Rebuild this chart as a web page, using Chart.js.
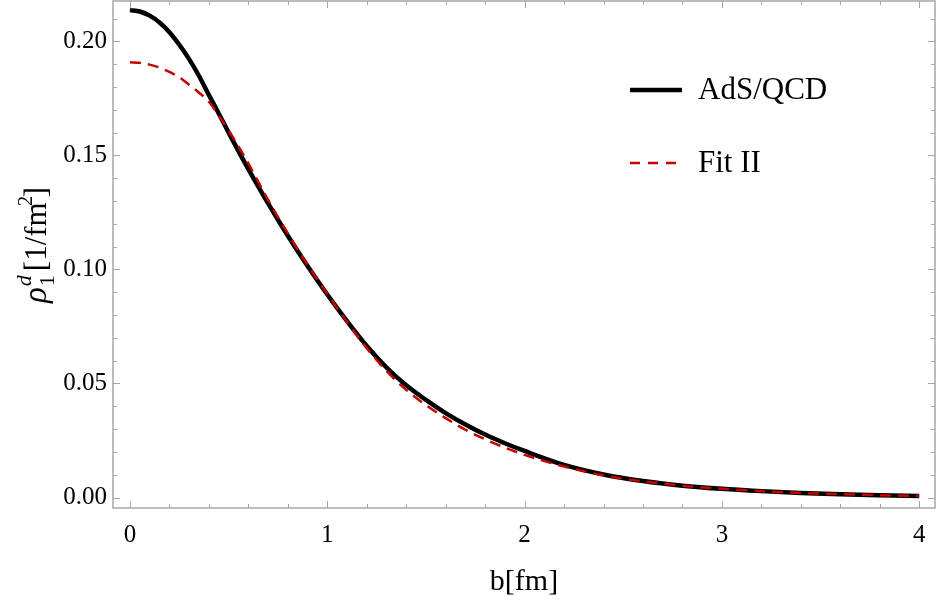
<!DOCTYPE html>
<html>
<head>
<meta charset="utf-8">
<script src="https://cdn.jsdelivr.net/npm/chart.js@4.4.0/dist/chart.umd.min.js"></script>
<style>
  html, body { margin: 0; padding: 0; background: #fff; }
  #wrap { width: 938px; height: 605px; }
</style>
</head>
<body>
<div id="wrap"><canvas id="rhoChart" width="938" height="605"></canvas></div>
<script>
// b [fm] sample points
const bValues = [0, 0.05, 0.1, 0.15, 0.2, 0.25, 0.3, 0.35, 0.4, 0.45, 0.5, 0.6, 0.7, 0.8, 0.9,
                 1.0, 1.1, 1.2, 1.3, 1.4, 1.5, 1.6, 1.7, 1.8, 1.9, 2.0, 2.2, 2.4, 2.6, 2.8,
                 3.0, 3.2, 3.4, 3.6, 3.8, 4.0];

// AdS/QCD (solid black)
const adsQcd = [0.2137, 0.2131, 0.2113, 0.2083, 0.2040, 0.1985, 0.1922, 0.1848, 0.1765, 0.1684,
                0.1600, 0.1440, 0.1290, 0.1148, 0.1015, 0.0890, 0.0773, 0.0664, 0.0570, 0.0492,
                0.0428, 0.0370, 0.0320, 0.0276, 0.0238, 0.0204, 0.0143, 0.0101, 0.0072, 0.0052,
                0.0038, 0.0028, 0.0020, 0.0014, 0.0010, 0.0007];

// Fit II (dashed red)
const fitII = [0.1908, 0.1906, 0.1898, 0.1885, 0.1866, 0.1842, 0.1810, 0.1775, 0.1735, 0.1675,
               0.1610, 0.1465, 0.1305, 0.1158, 0.1020, 0.0893, 0.0770, 0.0655, 0.0555, 0.0472,
               0.0405, 0.0348, 0.0297, 0.0255, 0.0219, 0.0187, 0.0136, 0.0097, 0.0071, 0.0052,
               0.0038, 0.0028, 0.0020, 0.0015, 0.0010, 0.0007];

// tick values
const xMajorTicks = [0, 1, 2, 3, 4];
const xMinorTicks = [0.2, 0.4, 0.6, 0.8, 1.2, 1.4, 1.6, 1.8, 2.2, 2.4, 2.6, 2.8, 3.2, 3.4, 3.6, 3.8];
const yMajorTicks = [0, 0.05, 0.10, 0.15, 0.20];
const yMinorTicks = [0.01, 0.02, 0.03, 0.04, 0.06, 0.07, 0.08, 0.09, 0.11, 0.12, 0.13, 0.14,
                     0.16, 0.17, 0.18, 0.19, 0.21];

const serif = '"Liberation Serif", "DejaVu Serif", serif';
const frameColor = '#a6a6a6';

function toPoints(xs, ys) {
    return xs.map((x, i) => ({ x: x, y: ys[i] }));
}

// frame and inward tick marks on all four sides (Mathematica style)
const frameTicks = {
    id: 'frameTicks',
    afterDatasetsDraw(chart) {
        const { ctx, chartArea: a, scales: { x, y } } = chart;
        ctx.save();
        ctx.strokeStyle = frameColor;
        ctx.lineWidth = 1.5;
        ctx.strokeRect(a.left, a.top, a.right - a.left, a.bottom - a.top);
        ctx.lineWidth = 1;
        const major = 7, minor = 4;
        const xt = (v, len) => {
            const px = Math.round(x.getPixelForValue(v)) + 0.5;
            ctx.beginPath();
            ctx.moveTo(px, a.bottom); ctx.lineTo(px, a.bottom - len);
            ctx.moveTo(px, a.top); ctx.lineTo(px, a.top + len);
            ctx.stroke();
        };
        const yt = (v, len) => {
            const py = Math.round(y.getPixelForValue(v)) + 0.5;
            ctx.beginPath();
            ctx.moveTo(a.left, py); ctx.lineTo(a.left + len, py);
            ctx.moveTo(a.right, py); ctx.lineTo(a.right - len, py);
            ctx.stroke();
        };
        xMajorTicks.forEach(v => xt(v, major));
        xMinorTicks.forEach(v => xt(v, minor));
        yMajorTicks.forEach(v => yt(v, major));
        yMinorTicks.forEach(v => yt(v, minor));
        ctx.restore();
    }
};

// rotated y-axis label with sub/superscripts
const yAxisLabel = {
    id: 'yAxisLabel',
    afterDraw(chart) {
        const { ctx } = chart;
        ctx.save();
        ctx.translate(46, 303);
        ctx.rotate(-Math.PI / 2);
        ctx.fillStyle = '#000';
        ctx.textBaseline = 'alphabetic';
        ctx.textAlign = 'left';
        let cx = 0;
        ctx.font = 'italic 33px ' + serif;
        ctx.fillText('\u03C1', 0, 0);
        cx += ctx.measureText('\u03C1').width + 1;
        ctx.font = '22px ' + serif;
        ctx.fillText('1', cx, 8);
        ctx.font = 'italic 22px ' + serif;
        ctx.fillText('d', cx, -15);
        cx += 15;
        ctx.font = '31px ' + serif;
        ctx.fillText('[1/fm', cx, 0);
        cx += ctx.measureText('[1/fm').width;
        ctx.font = '21px ' + serif;
        ctx.fillText('2', cx - 4, -14);
        ctx.font = '31px ' + serif;
        ctx.fillText(']', cx + 5, 0);
        ctx.restore();
    }
};

// legend placed inside the plot, top right
const insideLegend = {
    id: 'insideLegend',
    afterDraw(chart) {
        const { ctx } = chart;
        const rows = [90, 163];
        ctx.save();
        chart.data.datasets.forEach((ds, i) => {
            const yy = rows[i];
            ctx.strokeStyle = ds.borderColor;
            ctx.lineWidth = ds.borderWidth;
            ctx.setLineDash(ds.borderDash ? [10, 8] : []);
            ctx.beginPath();
            ctx.moveTo(630, yy);
            ctx.lineTo(682, yy);
            ctx.stroke();
            ctx.setLineDash([]);
            ctx.fillStyle = '#000';
            ctx.font = '31px ' + serif;
            ctx.textBaseline = 'middle';
            ctx.fillText(ds.label, 698, yy + 1);
        });
        ctx.restore();
    }
};

const ctx = document.getElementById('rhoChart').getContext('2d');
const rhoChart = new Chart(ctx, {
    type: 'line',
    data: {
        datasets: [{
            label: 'AdS/QCD',
            data: toPoints(bValues, adsQcd),
            borderColor: '#000000',
            borderWidth: 4.5,
            pointRadius: 0,
            cubicInterpolationMode: 'monotone',
            fill: false,
            order: 2
        }, {
            label: 'Fit II',
            data: toPoints(bValues, fitII),
            borderColor: '#c80000',
            borderWidth: 2.5,
            borderDash: [11, 7],
            pointRadius: 0,
            cubicInterpolationMode: 'monotone',
            fill: false,
            order: 1
        }]
    },
    options: {
        responsive: false,
        animation: false,
        devicePixelRatio: 1,
        layout: { padding: { left: 0, right: 3, top: 1, bottom: 0 } },
        plugins: { legend: { display: false }, tooltip: { enabled: false } },
        scales: {
            x: {
                type: 'linear',
                min: -0.086,
                max: 4.08,
                afterBuildTicks: s => { s.ticks = xMajorTicks.map(v => ({ value: v })); },
                afterFit: s => { s.height = 97; s.paddingLeft = 0; s.paddingRight = 0; },
                grid: { display: false, drawTicks: false },
                border: { display: false },
                ticks: {
                    color: '#000',
                    padding: 12,
                    maxRotation: 0,
                    font: { family: serif, size: 25 },
                    callback: v => String(v)
                },
                title: {
                    display: true,
                    text: 'b[fm]',
                    color: '#000',
                    font: { family: serif, size: 30 },
                    padding: { top: 0, bottom: 5 }
                }
            },
            y: {
                type: 'linear',
                min: -0.0046,
                max: 0.2177,
                afterBuildTicks: s => { s.ticks = yMajorTicks.map(v => ({ value: v })); },
                afterFit: s => { s.width = 113; s.paddingTop = 0; s.paddingBottom = 0; },
                grid: { display: false, drawTicks: false },
                border: { display: false },
                ticks: {
                    color: '#000',
                    padding: 6,
                    font: { family: serif, size: 25 },
                    callback: v => v.toFixed(2)
                }
            }
        }
    },
    plugins: [frameTicks, yAxisLabel, insideLegend]
});
</script>
</body>
</html>
